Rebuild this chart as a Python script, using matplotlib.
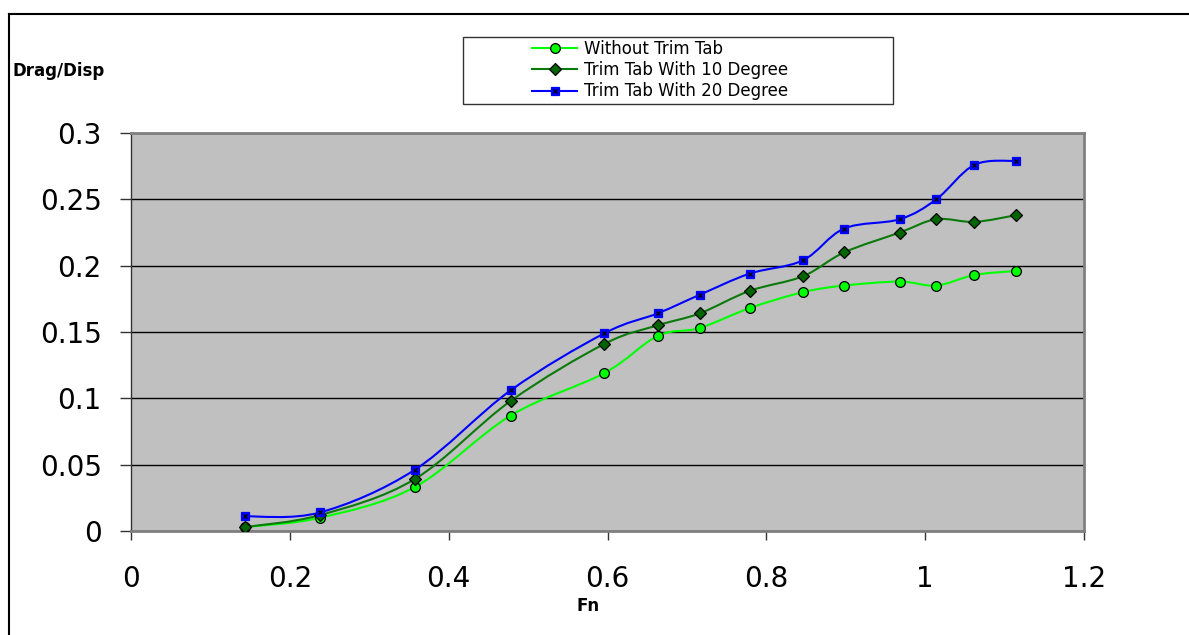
import numpy as np
import matplotlib
matplotlib.use("Agg")
import matplotlib.pyplot as plt
from matplotlib.path import Path
from matplotlib.patches import PathPatch, Rectangle
from matplotlib.lines import Line2D
from matplotlib.legend_handler import HandlerTuple

plt.rcParams['font.family'] = ['DejaVu Sans']

# ==============================
# DATA
# ==============================
fn = [0.144, 0.238, 0.357, 0.478, 0.596, 0.663, 0.716, 0.779,
      0.846, 0.898, 0.968, 1.014, 1.062, 1.114]
without_tab = [0.003, 0.010, 0.033, 0.087, 0.119, 0.147, 0.153, 0.168,
               0.180, 0.185, 0.188, 0.185, 0.193, 0.196]
tab_10 = [0.003, 0.012, 0.039, 0.098, 0.141, 0.155, 0.164, 0.181,
          0.192, 0.210, 0.225, 0.235, 0.233, 0.238]
tab_20 = [0.011, 0.014, 0.046, 0.106, 0.149, 0.164, 0.178, 0.194,
          0.204, 0.228, 0.235, 0.250, 0.276, 0.279]

labels = ["Without Trim Tab", "Trim Tab With 10 Degree", "Trim Tab With 20 Degree"]
x_ticks = [0, 0.2, 0.4, 0.6, 0.8, 1, 1.2]
y_ticks = [0, 0.05, 0.1, 0.15, 0.2, 0.25, 0.3]


# Excel-like smoothed line: cubic Bezier segments (Catmull-Rom control points)
def smooth_path(x, y):
    p = np.column_stack([x, y])
    n = len(p)
    verts = [p[0]]
    codes = [Path.MOVETO]
    for i in range(n - 1):
        p0 = p[i - 1] if i > 0 else p[i]
        p1 = p[i]
        p2 = p[i + 1]
        p3 = p[i + 2] if i + 2 < n else p[i + 1]
        c1 = p1 + (p2 - p0) / 6
        c2 = p2 - (p3 - p1) / 6
        verts += [c1, c2, p2]
        codes += [Path.CURVE4] * 3
    return Path(verts, codes)


# ==============================
# PLOT
# ==============================
W, H = 1189, 635
fig = plt.figure(figsize=(W / 100, H / 100), dpi=100)
ax = fig.add_axes([131 / W, 1 - 531 / H, (1084 - 131) / W, (531 - 133) / H])
ax.set_facecolor('#c0c0c0')

series = [
    (without_tab, '#00ff00', 'o', '#00ff00', 'black', 7),
    (tab_10, '#0a7a0a', 'D', '#006400', 'black', 6.5),
    (tab_20, '#0000ff', 's', '#0000ff', '#0000ff', 6),
]
handles = []
for vals, lc, mk, fc, ec, ms in series:
    ax.add_patch(PathPatch(smooth_path(fn, vals), facecolor='none',
                           edgecolor=lc, lw=1.5, zorder=3))
    ax.plot(fn, vals, ls='none', marker=mk, ms=ms, mfc=fc, mec=ec,
            mew=0.9, zorder=4)
    h = Line2D([], [], color=lc, lw=1.5, marker=mk, ms=ms, mfc=fc,
               mec=ec, mew=0.9)
    if mk == 's':
        # small black cross inside the square markers
        ax.plot(fn, vals, ls='none', marker='x', ms=2.5, mec='black',
                mew=0.9, zorder=5)
        h = (h, Line2D([], [], ls='none', marker='x', ms=2.5, mec='black',
                       mew=0.9))
    handles.append(h)

ax.set_xlim(0, 1.2)
ax.set_ylim(0, 0.3)
ax.set_xticks(x_ticks)
ax.set_xticklabels([f"{v:g}" for v in x_ticks])
ax.set_yticks(y_ticks)
ax.set_yticklabels([f"{v:g}" for v in y_ticks])
ax.tick_params(axis='y', length=8, width=1, color='#333333', pad=13,
               labelsize=20)
ax.tick_params(axis='x', length=6.5, width=1, color='#333333', pad=18,
               labelsize=20)

# gridlines
ax.grid(axis='y', color='black', lw=1)
ax.set_axisbelow(True)

for s in ['top', 'right']:
    ax.spines[s].set_color('#808080')
    ax.spines[s].set_linewidth(2)
ax.spines['left'].set_color('#333333')
ax.spines['left'].set_linewidth(1)
ax.spines['bottom'].set_color('#808080')
ax.spines['bottom'].set_linewidth(2)

# axis titles
fig.text(13 / W, 1 - 71 / H, "Drag/Disp", fontsize=12, fontweight='bold',
         ha='left', va='center')
fig.text(588 / W, 1 - 606 / H, "Fn", fontsize=12, fontweight='bold',
         ha='center', va='center')

# legend with separate frame
fig.patches.append(Rectangle((463 / W, 1 - 104 / H), 430 / W, 67 / H,
                             transform=fig.transFigure, facecolor='white',
                             edgecolor='#333333', lw=1))
fig.legend(handles, labels, loc='center left',
           bbox_to_anchor=(532 / W, 1 - 70 / H), frameon=False,
           fontsize=12, handlelength=2.7, handletextpad=0.4,
           labelspacing=0.2, borderpad=0, borderaxespad=0,
           handler_map={tuple: HandlerTuple(ndivide=1)})

# outer chart border
fig.add_artist(Line2D([9 / W, 9 / W], [0, 1 - 14 / H], color='black', lw=1.5,
                      transform=fig.transFigure))
fig.add_artist(Line2D([9 / W, 1], [1 - 14 / H, 1 - 14 / H], color='black',
                      lw=1.5, transform=fig.transFigure))

fig.savefig("out.png", dpi=100)
